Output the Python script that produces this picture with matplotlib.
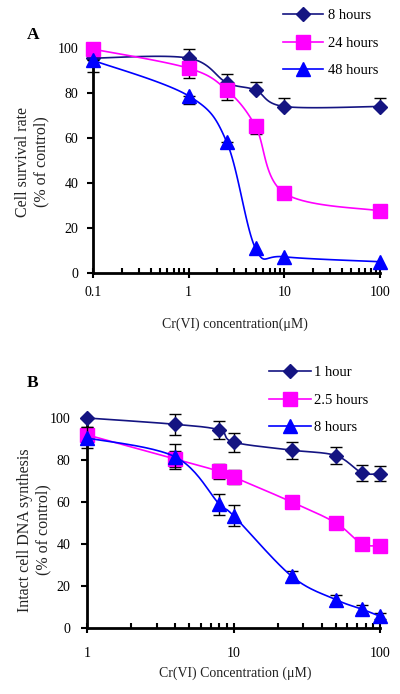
import numpy as np
import matplotlib
matplotlib.use("Agg")
import matplotlib.pyplot as plt
from matplotlib.lines import Line2D
from matplotlib.ticker import LogLocator, FixedLocator, NullFormatter

plt.rcParams['font.family'] = ['Liberation Serif', 'DejaVu Serif']

# ---------------- data ----------------
concA = [0.1, 1, 2.5, 5, 10, 100]
a8 = [95.5, 95.5, 84.6, 81.3, 74.0, 74.0]
a8_err = [0, 4, 4, 3.7, 4, 3.7]
a24 = [99.5, 91.0, 81.3, 65.2, 35.5, 27.6]
a24_err = [0, 4.5, 4.4, 3.3, 0, 0]
a48 = [94.5, 78.7, 58.2, 10.9, 7.2, 5.0]
a48_err = [5.2, 3.8, 2, 0, 0, 0]
labelsA = ["8 hours", "24 hours", "48 hours"]

concB = [1, 4, 8, 10, 25, 50, 75, 100]
b1 = [100, 97.0, 94.3, 88.5, 84.7, 82.1, 74.0, 73.5]
b1_err = [0, 5, 4.5, 4.5, 4, 4, 3.8, 3.5]
b25 = [92.0, 80.5, 74.6, 71.9, 60.0, 50.0, 40.2, 39.2]
b25_err = [3.5, 3.8, 3.5, 3.5, 0, 0, 0, 0]
b8 = [90.5, 81.5, 59.0, 53.5, 24.6, 13.5, 9.0, 5.6]
b8_err = [5, 6, 5, 5, 2.5, 2, 2, 1.5]
labelsB = ["1 hour", "2.5 hours", "8 hours"]

yticks = [0, 20, 40, 60, 80, 100]
xticksA = [0.1, 1, 10, 100]
xticksB = [1, 10, 100]

NAVY = '#141482'
MAG = '#ff00ff'
BLUE = '#0000ff'
styles = [dict(color=NAVY, marker='D', ms=7.6),
          dict(color=MAG, marker='s', ms=10.0),
          dict(color=BLUE, marker='^', ms=10.5)]

W, H = 400, 694
fig = plt.figure(figsize=(W / 100, H / 100), dpi=100)


def fx(px):
    return px / W


def fy(py):
    return 1 - py / H


def smooth(ax, x, y, n=24):
    pts = ax.transData.transform(np.column_stack([x, y]))
    P = np.vstack([pts[0], pts, pts[-1]])
    out = []
    t = np.linspace(0, 1, n)[:, None]
    for i in range(1, len(P) - 2):
        p0, p1, p2, p3 = P[i - 1], P[i], P[i + 1], P[i + 2]
        c1 = p1 + (p2 - p0) / 6
        c2 = p2 - (p3 - p1) / 6
        seg = (1 - t) ** 3 * p1 + 3 * (1 - t) ** 2 * t * c1 + 3 * (1 - t) * t ** 2 * c2 + t ** 3 * p2
        out.append(seg)
    out = np.vstack(out)
    d = ax.transData.inverted().transform(out)
    return d[:, 0], d[:, 1]


def setup(ax, xlim, xticks, xpad, ypad):
    ax.set_xscale('log')
    ax.set_xlim(*xlim)
    ax.set_ylim(0, 100)
    for s in ['top', 'right']:
        ax.spines[s].set_visible(False)
    for s in ['left', 'bottom']:
        ax.spines[s].set_linewidth(2.0)
    ax.set_yticks(yticks)
    ax.set_yticklabels([str(v) for v in yticks])
    ax.xaxis.set_major_locator(FixedLocator(xticks))
    ax.set_xticklabels([f"{v:g}" for v in xticks])
    ax.xaxis.set_minor_locator(LogLocator(base=10, subs=np.arange(2, 10)))
    ax.xaxis.set_minor_formatter(NullFormatter())
    ax.tick_params(axis='y', direction='out', length=4, width=1.5, pad=ypad, labelsize=10)
    ax.tick_params(axis='x', which='major', direction='inout', length=7, width=1.5, pad=xpad, labelsize=10)
    ax.tick_params(axis='x', which='minor', direction='in', length=3.5, width=1.5)


def draw(ax, conc, series, errs, sides, labels):
    handles = []
    z = 3
    for yv, e, side, st, lab in zip(series, errs, sides, styles, labels):
        e = np.array(e, dtype=float)
        zero = np.zeros_like(e)
        yerr = [zero, e] if side == 'up' else ([e, zero] if side == 'down' else [e, e])
        mask = e > 0
        ax.errorbar(np.array(conc)[mask], np.array(yv)[mask],
                    yerr=[yerr[0][mask], yerr[1][mask]], fmt='none',
                    ecolor='black', elinewidth=1.0, capsize=4, capthick=1.0,
                    zorder=z, clip_on=False)
        sx, sy = smooth(ax, conc, yv)
        ax.plot(sx, sy, color=st['color'], lw=1.2, zorder=z + 0.5, clip_on=False)
        ax.plot(conc, yv, linestyle='none', marker=st['marker'], ms=st['ms'],
                color=st['color'], mec=st['color'], zorder=z + 0.8, clip_on=False)
        handles.append(Line2D([], [], color=st['color'], lw=1.2, marker=st['marker'],
                              ms=st['ms'], mec=st['color'], label=lab))
        z += 1
    return handles


# ---------------- Panel A ----------------
axA = fig.add_axes([fx(93), fy(273), fx(380) - fx(93), fy(48) - fy(273)])
setup(axA, (0.1, 100), xticksA, xpad=5.5, ypad=6.5)
hA = draw(axA, concA, [a8, a24, a48], [a8_err, a24_err, a48_err],
          ['up', 'down', 'down'], labelsA)
fig.legend(handles=hA, loc='upper left', bbox_to_anchor=(fx(283), fy(9)),
           bbox_transform=fig.transFigure, frameon=False, fontsize=10.5,
           handlelength=2.75, handletextpad=0.35, labelspacing=0.98,
           borderpad=0, borderaxespad=0, numpoints=1)
fig.text(fx(33), fy(35), 'A', fontsize=12.5, fontweight='bold', ha='center', va='center')
fig.text(fx(32), fy(162), 'Cell survival rate\n(% of control)', rotation=90,
         ha='center', va='center', fontsize=11.5, multialignment='center', color='#222222')
fig.text(fx(235), fy(324), 'Cr(VI) concentration(\u03bcM)', ha='center', va='center',
         fontsize=10, color='#222222')

# ---------------- Panel B ----------------
axB = fig.add_axes([fx(87), fy(628), fx(380) - fx(87), fy(418) - fy(628)])
setup(axB, (1, 100), xticksB, xpad=10, ypad=8)
hB = draw(axB, concB, [b1, b25, b8], [b1_err, b25_err, b8_err],
          ['both', 'both', 'both'], labelsB)
fig.legend(handles=hB, loc='upper left', bbox_to_anchor=(fx(269), fy(366)),
           bbox_transform=fig.transFigure, frameon=False, fontsize=10.5,
           handlelength=2.85, handletextpad=0.25, labelspacing=0.98,
           borderpad=0, borderaxespad=0, numpoints=1)
fig.text(fx(33), fy(383), 'B', fontsize=12.5, fontweight='bold', ha='center', va='center')
fig.text(fx(34), fy(530), 'Intact cell DNA synthesis\n(% of control)', rotation=90,
         ha='center', va='center', fontsize=11.5, multialignment='center', color='#222222')
fig.text(fx(235), fy(673), 'Cr(VI) Concentration (\u03bcM)', ha='center', va='center',
         fontsize=10, color='#222222')

fig.savefig('out.png', dpi=100)
